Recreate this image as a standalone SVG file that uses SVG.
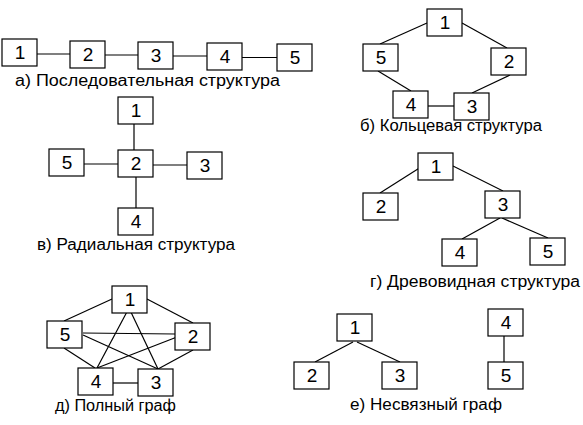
<svg xmlns="http://www.w3.org/2000/svg" width="583" height="425" viewBox="0 0 583 425">
<style>
rect.n{fill:#fff;stroke:#000;stroke-width:1.2}
text.d{font-family:"Liberation Sans",Arial,sans-serif;font-size:19px;text-anchor:middle;fill:#000}
text.c{font-family:"Liberation Sans",Arial,sans-serif;font-size:16px;fill:#000}
#edges line{stroke:#000;stroke-width:1.2}
</style>
<rect width="583" height="425" fill="#fff"/>
<g id="edges">
<line x1="37" y1="54" x2="70" y2="54"/>
<line x1="105" y1="55" x2="138" y2="55"/>
<line x1="173" y1="56" x2="207" y2="56"/>
<line x1="242" y1="57.5" x2="277" y2="57.5"/>
<line x1="427" y1="23" x2="380" y2="44"/>
<line x1="462" y1="23" x2="507" y2="48"/>
<line x1="378" y1="71" x2="411" y2="91"/>
<line x1="510" y1="75" x2="472" y2="93"/>
<line x1="428" y1="106" x2="454" y2="106"/>
<line x1="134" y1="124" x2="134" y2="150"/>
<line x1="84" y1="164" x2="118" y2="164"/>
<line x1="153" y1="165" x2="187" y2="165"/>
<line x1="136" y1="177" x2="136" y2="208"/>
<line x1="421" y1="167" x2="380" y2="193"/>
<line x1="453" y1="166" x2="503" y2="191"/>
<line x1="500" y1="218" x2="462" y2="239"/>
<line x1="502" y1="218" x2="548" y2="238"/>
<line x1="112" y1="299" x2="64" y2="321"/>
<line x1="147" y1="299" x2="193" y2="323"/>
<line x1="83" y1="333" x2="175" y2="334"/>
<line x1="64" y1="348" x2="95" y2="368"/>
<line x1="193" y1="350" x2="158" y2="369"/>
<line x1="113" y1="383" x2="138" y2="383"/>
<line x1="129" y1="308" x2="97" y2="368"/>
<line x1="129" y1="308" x2="158" y2="369"/>
<line x1="83" y1="335" x2="158" y2="369"/>
<line x1="177" y1="337" x2="97" y2="368"/>
<line x1="353" y1="342" x2="315" y2="362"/>
<line x1="357" y1="342" x2="400" y2="362"/>
<line x1="504" y1="336" x2="504" y2="362"/>
</g>
<g id="a1"><rect class="n" x="2" y="39" width="35" height="27"/><text class="d" x="20" y="59">1</text></g>
<g id="a2"><rect class="n" x="70" y="41" width="35" height="27"/><text class="d" x="88" y="61">2</text></g>
<g id="a3"><rect class="n" x="138" y="42" width="35" height="27"/><text class="d" x="156" y="62">3</text></g>
<g id="a4"><rect class="n" x="207" y="43" width="35" height="27"/><text class="d" x="225" y="63">4</text></g>
<g id="a5"><rect class="n" x="277" y="44" width="35" height="27"/><text class="d" x="295" y="64">5</text></g>
<text class="c" x="15" y="86" textLength="265" lengthAdjust="spacingAndGlyphs">а) Последовательная структура</text>

<g id="b1"><rect class="n" x="427" y="9" width="35" height="27"/><text class="d" x="445" y="29">1</text></g>
<g id="b5"><rect class="n" x="363" y="44" width="35" height="27"/><text class="d" x="381" y="64">5</text></g>
<g id="b2"><rect class="n" x="491" y="48" width="35" height="27"/><text class="d" x="509" y="68">2</text></g>
<g id="b4"><rect class="n" x="393" y="91" width="35" height="27"/><text class="d" x="411" y="111">4</text></g>
<g id="b3"><rect class="n" x="454" y="93" width="35" height="27"/><text class="d" x="472" y="113">3</text></g>
<text class="c" x="360" y="131" textLength="182" lengthAdjust="spacingAndGlyphs">б) Кольцевая структура</text>

<g id="c1"><rect class="n" x="118" y="97" width="35" height="27"/><text class="d" x="136" y="117">1</text></g>
<g id="c2"><rect class="n" x="118" y="150" width="35" height="27"/><text class="d" x="136" y="170">2</text></g>
<g id="c5"><rect class="n" x="49" y="149" width="35" height="27"/><text class="d" x="67" y="169">5</text></g>
<g id="c3"><rect class="n" x="187" y="152" width="35" height="27"/><text class="d" x="205" y="172">3</text></g>
<g id="c4"><rect class="n" x="118" y="208" width="35" height="27"/><text class="d" x="136" y="228">4</text></g>
<text class="c" x="37" y="250" textLength="198" lengthAdjust="spacingAndGlyphs">в) Радиальная структура</text>

<g id="d1"><rect class="n" x="418" y="153" width="35" height="27"/><text class="d" x="436" y="173">1</text></g>
<g id="d2"><rect class="n" x="363" y="193" width="35" height="27"/><text class="d" x="381" y="213">2</text></g>
<g id="d3"><rect class="n" x="485" y="191" width="35" height="27"/><text class="d" x="503" y="211">3</text></g>
<g id="d4"><rect class="n" x="442" y="239" width="35" height="27"/><text class="d" x="460" y="259">4</text></g>
<g id="d5"><rect class="n" x="530" y="238" width="35" height="27"/><text class="d" x="548" y="258">5</text></g>
<text class="c" x="370" y="287" textLength="210" lengthAdjust="spacingAndGlyphs">г) Древовидная структура</text>

<g id="e1"><rect class="n" x="112" y="286" width="35" height="27"/><text class="d" x="130" y="306">1</text></g>
<g id="e5"><rect class="n" x="47" y="321" width="35" height="27"/><text class="d" x="65" y="341">5</text></g>
<g id="e2"><rect class="n" x="175" y="323" width="35" height="27"/><text class="d" x="193" y="343">2</text></g>
<g id="e4"><rect class="n" x="78" y="368" width="35" height="27"/><text class="d" x="96" y="388">4</text></g>
<g id="e3"><rect class="n" x="138" y="369" width="35" height="27"/><text class="d" x="156" y="389">3</text></g>
<text class="c" x="55" y="411" textLength="121" lengthAdjust="spacingAndGlyphs">д) Полный граф</text>

<g id="f1"><rect class="n" x="337" y="314" width="35" height="27"/><text class="d" x="355" y="334">1</text></g>
<g id="f2"><rect class="n" x="294" y="362" width="35" height="27"/><text class="d" x="312" y="382">2</text></g>
<g id="f3"><rect class="n" x="382" y="362" width="35" height="27"/><text class="d" x="400" y="382">3</text></g>
<g id="f4"><rect class="n" x="488" y="309" width="35" height="27"/><text class="d" x="506" y="329">4</text></g>
<g id="f5"><rect class="n" x="488" y="362" width="35" height="27"/><text class="d" x="506" y="382">5</text></g>
<text class="c" x="350" y="410" textLength="152" lengthAdjust="spacingAndGlyphs">е) Несвязный граф</text>
</svg>
